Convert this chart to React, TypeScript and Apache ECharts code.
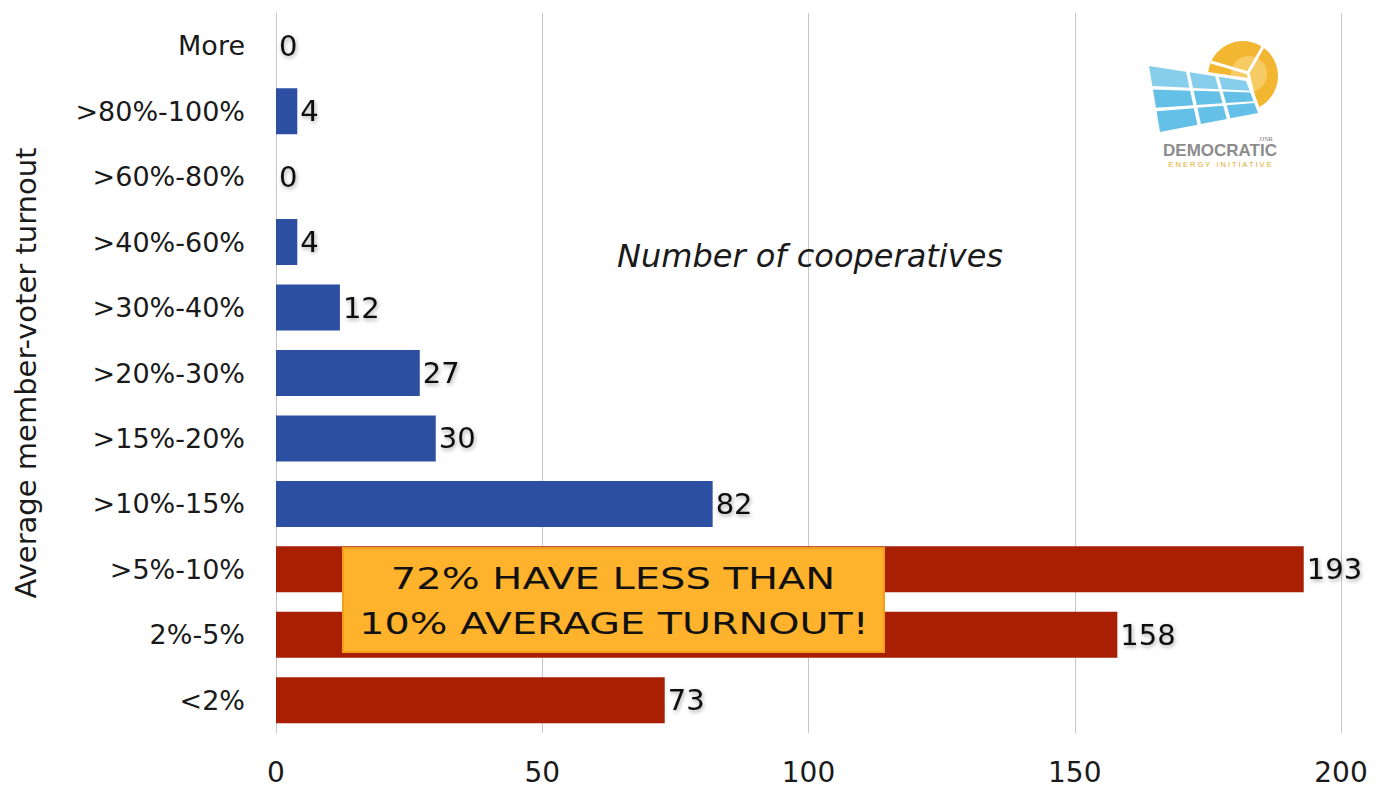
import React, { useEffect, useRef } from "react";
import * as echarts from "echarts";

const categories = ["<2%", "2%-5%", ">5%-10%", ">10%-15%", ">15%-20%", ">20%-30%", ">30%-40%", ">40%-60%", ">60%-80%", ">80%-100%", "More"];
const counts = [73, 158, 193, 82, 30, 27, 12, 4, 0, 4, 0];
const highlighted = [true, true, true, false, false, false, false, false, false, false, false];
const xTicks = [0, 50, 100, 150, 200];

const BLUE = "#2D4FA1";
const RED = "#A81F02";

function panelCells() {
  // decorative logo: skewed solar panel made of 3x3 cells
  const TL = [1149, 66], TR = [1246, 81], BR = [1258, 113], BL = [1160, 132];
  const lerp = (a: number[], b: number[], t: number) => [a[0] + (b[0] - a[0]) * t, a[1] + (b[1] - a[1]) * t];
  const pt = (u: number, v: number) => lerp(lerp(TL, TR, u), lerp(BL, BR, u), v);
  const cols = [0, 0.4, 0.7, 1];
  const rows = [0, 0.33, 0.66, 1];
  const g = 0.018;
  const cells: any[] = [];
  for (let i = 0; i < 3; i++) {
    for (let j = 0; j < 3; j++) {
      const u0 = cols[i] + (i ? g : 0), u1 = cols[i + 1] - (i < 2 ? g : 0);
      const v0 = rows[j] + (j ? g * 1.5 : 0), v1 = rows[j + 1] - (j < 2 ? g * 1.5 : 0);
      cells.push({
        type: "polygon",
        shape: { points: [pt(u0, v0), pt(u1, v0), pt(u1, v1), pt(u0, v1)] },
        style: { fill: j === 0 ? "#7FCBEA" : "#5DBDE6", opacity: 0.95 },
        z: 12,
      });
    }
  }
  return cells;
}

export default function App() {
  const ref = useRef<HTMLDivElement>(null);
  useEffect(() => {
    if (!ref.current) return;
    const chart = echarts.init(ref.current, null, { renderer: "svg" });
    const font = "'DejaVu Sans', sans-serif";
    chart.setOption({
      animation: false,
      backgroundColor: "#ffffff",
      grid: { left: 276, right: 44, top: 13, bottom: 58, containLabel: false },
      xAxis: {
        type: "value",
        min: 0,
        max: 200,
        interval: 50,
        axisLine: { show: false },
        axisTick: { show: false },
        splitLine: { show: true, lineStyle: { color: "#C6C6C6", width: 1 } },
        axisLabel: {
          color: "#1a1a1a",
          fontSize: 28,
          fontFamily: font,
          margin: 25,
          formatter: (v: number) => (xTicks.includes(v) ? String(v) : ""),
        },
      },
      yAxis: {
        type: "category",
        data: categories,
        axisLine: { show: true, lineStyle: { color: "#C6C6C6", width: 1 } },
        axisTick: { show: false },
        axisLabel: { color: "#1a1a1a", fontSize: 27, fontFamily: font, margin: 31 },
        name: "Average member-voter turnout",
        nameLocation: "middle",
        nameRotate: 90,
        nameGap: 236,
        nameTextStyle: { color: "#1a1a1a", fontSize: 29, fontFamily: font },
      },
      series: [
        {
          type: "bar",
          barWidth: 46,
          data: counts.map((v, i) => ({
            value: v,
            itemStyle: { color: highlighted[i] ? RED : BLUE },
          })),
          label: {
            show: true,
            position: "right",
            distance: 3,
            color: "#111111",
            fontSize: 29,
            fontFamily: font,
            textShadowColor: "rgba(0,0,0,0.35)",
            textShadowBlur: 4,
            textShadowOffsetX: 1,
            textShadowOffsetY: 2,
          },
          z: 2,
        },
      ],
      graphic: [
        {
          type: "text",
          left: 617,
          top: 240,
          style: {
            text: "Number of cooperatives",
            fontSize: 32,
            fontStyle: "italic",
            fontFamily: font,
            fill: "#1a1a1a",
          },
          z: 10,
        },
        {
          type: "rect",
          shape: { x: 343, y: 548, width: 541, height: 104 },
          style: { fill: "#FFB22B", stroke: "#F29E1C", lineWidth: 2 },
          z: 10,
        },
        {
          type: "text",
          x: 613,
          y: 578,
          scaleX: 1.29,
          style: {
            text: "72% HAVE LESS THAN",
            fontSize: 31,
            fontFamily: font,
            fill: "#111111",
            align: "center",
            verticalAlign: "middle",
          },
          z: 11,
        },
        {
          type: "text",
          x: 614,
          y: 623,
          scaleX: 1.28,
          style: {
            text: "10% AVERAGE TURNOUT!",
            fontSize: 31,
            fontFamily: font,
            fill: "#111111",
            align: "center",
            verticalAlign: "middle",
          },
          z: 11,
        },
        // logo: sun
        {
          type: "circle",
          shape: { cx: 1243, cy: 76, r: 35 },
          style: { fill: "#F2B631" },
          z: 11,
        },
        {
          type: "circle",
          shape: { cx: 1249, cy: 74, r: 18 },
          style: { fill: "#F8D479", opacity: 0.7 },
          z: 11,
        },
        {
          type: "polyline",
          shape: { points: [[1264, 45], [1248, 73], [1211, 62]] },
          style: { stroke: "#ffffff", lineWidth: 3, fill: "none" },
          z: 11,
        },
        {
          type: "line",
          shape: { x1: 1248, y1: 73, x2: 1257, y2: 111 },
          style: { stroke: "#ffffff", lineWidth: 3 },
          z: 11,
        },
        {
          type: "polygon",
          shape: { points: [[1146, 63], [1249, 78], [1262, 115], [1157, 135]] },
          style: { fill: "#ffffff" },
          z: 11,
        },
        ...panelCells(),
        {
          type: "text",
          x: 1273,
          y: 135,
          style: { text: "JJSR", fontSize: 7, fontFamily: "serif", fill: "#777", align: "right" },
          z: 12,
        },
        {
          type: "text",
          x: 1220,
          y: 150,
          style: {
            text: "DEMOCRATIC",
            fontSize: 17,
            fontWeight: "bold",
            fontFamily: "'Liberation Sans', sans-serif",
            fill: "#8C8C8C",
            align: "center",
            verticalAlign: "middle",
          },
          z: 12,
        },
        {
          type: "text",
          x: 1220,
          y: 164,
          style: {
            text: "E N E R G Y   I N I T I A T I V E",
            fontSize: 7.5,
            fontFamily: "'Liberation Sans', sans-serif",
            fill: "#E3A92A",
            align: "center",
            verticalAlign: "middle",
          },
          z: 12,
        },
      ],
    });
    return () => chart.dispose();
  }, []);
  return <div ref={ref} style={{ width: 1385, height: 791, position: "absolute", left: 0, top: 0 }} />;
}
